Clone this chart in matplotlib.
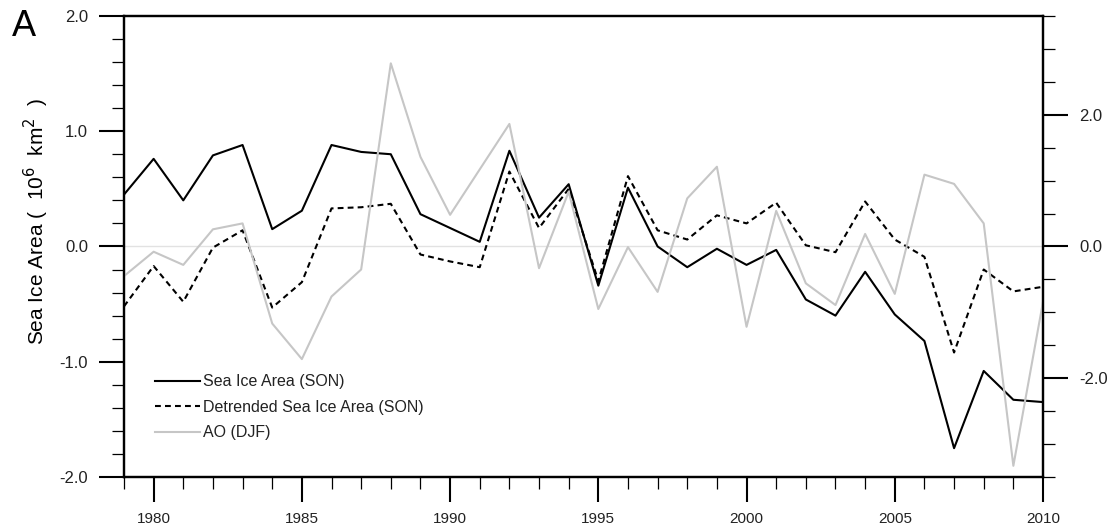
import numpy as np
import matplotlib
matplotlib.use("Agg")
import matplotlib.pyplot as plt
from matplotlib.ticker import MultipleLocator, FormatStrFormatter

plt.rcParams['font.family'] = ['Liberation Sans', 'DejaVu Sans']
plt.rcParams['axes.unicode_minus'] = False

# values
years = np.arange(1979, 2011)
sea_ice = [0.45, 0.76, 0.40, 0.79, 0.88, 0.15, 0.31, 0.88, 0.82, 0.80,
           0.28, 0.16, 0.04, 0.83, 0.25, 0.54, -0.34, 0.51, 0.00, -0.18,
           -0.02, -0.16, -0.03, -0.46, -0.60, -0.22, -0.59, -0.82, -1.75,
           -1.08, -1.33, -1.35]
sea_ice_detr = [-0.52, -0.17, -0.48, -0.01, 0.14, -0.53, -0.31, 0.33, 0.34,
                0.37, -0.07, -0.13, -0.18, 0.65, 0.16, 0.50, -0.30, 0.61,
                0.14, 0.06, 0.27, 0.20, 0.38, 0.01, -0.05, 0.39, 0.06, -0.09,
                -0.92, -0.20, -0.39, -0.35]
ao_djf = [-0.45, -0.08, -0.28, 0.26, 0.35, -1.17, -1.71, -0.76, -0.35, 2.78,
          1.36, 0.48, 1.17, 1.86, -0.33, 0.83, -0.95, -0.01, -0.69, 0.73,
          1.21, -1.22, 0.54, -0.56, -0.89, 0.19, -0.72, 1.09, 0.95, 0.35,
          -3.33, -0.84]
labels = ["Sea Ice Area (SON)", "Detrended Sea Ice Area (SON)", "AO (DJF)"]

fig = plt.figure(figsize=(11.11, 5.30), dpi=100)
ax = fig.add_axes([0.1116, 0.1, 0.8272, 0.87])
ax2 = ax.twinx()

ax.axhline(0, color='#e2e2e2', lw=1.0, zorder=1)
l3, = ax2.plot(years, ao_djf, color='#c6c6c6', lw=1.5, label=labels[2])
l1, = ax.plot(years, sea_ice, color='black', lw=1.5, label=labels[0], zorder=3)
l2, = ax.plot(years, sea_ice_detr, color='black', lw=1.5, ls=(0, (2.8, 2.0)),
              label=labels[1], zorder=3)

ax.set_xlim(1979, 2010)
ax.set_ylim(-2.0, 2.0)
ax2.set_ylim(-3.5, 3.5)

ax.xaxis.set_major_locator(MultipleLocator(5))
ax.xaxis.set_minor_locator(MultipleLocator(1))
ax.yaxis.set_major_locator(MultipleLocator(1.0))
ax.yaxis.set_minor_locator(MultipleLocator(0.2))
ax.yaxis.set_major_formatter(FormatStrFormatter('%.1f'))
ax2.yaxis.set_major_locator(MultipleLocator(2.0))
ax2.yaxis.set_minor_locator(MultipleLocator(0.5))
ax2.yaxis.set_major_formatter(FormatStrFormatter('%.1f'))

for a in (ax, ax2):
    for s in a.spines.values():
        s.set_linewidth(1.6)
ax.tick_params(axis='both', which='major', direction='out', length=18,
               width=1.5, labelsize=12, pad=8, labelcolor='#222222')
ax.tick_params(axis='both', which='minor', direction='out', length=8.5,
               width=0.9)
ax.tick_params(axis='x', which='major', labelsize=11, pad=7)
ax2.tick_params(axis='y', which='major', direction='out', length=18,
                width=1.5, labelsize=12, pad=8, labelcolor='#222222')
ax2.tick_params(axis='y', which='minor', direction='out', length=8.5,
                width=0.9)

ax.set_ylabel('Sea Ice Area (  10$^6$  km$^2$  )', fontsize=15, labelpad=6)
ax.yaxis.label.set_y(0.555)
fig.text(0.011, 0.932, 'A', fontsize=26)

leg = ax.legend(handles=[l1, l2, l3], labels=labels, loc='lower left',
                bbox_to_anchor=(0.034, 0.08), frameon=False, fontsize=11.5,
                handlelength=2.8, handletextpad=0.2, labelspacing=0.65,
                borderpad=0, borderaxespad=0)
for t in leg.get_texts():
    t.set_color('#222222')

fig.savefig('out.png', dpi=100)
